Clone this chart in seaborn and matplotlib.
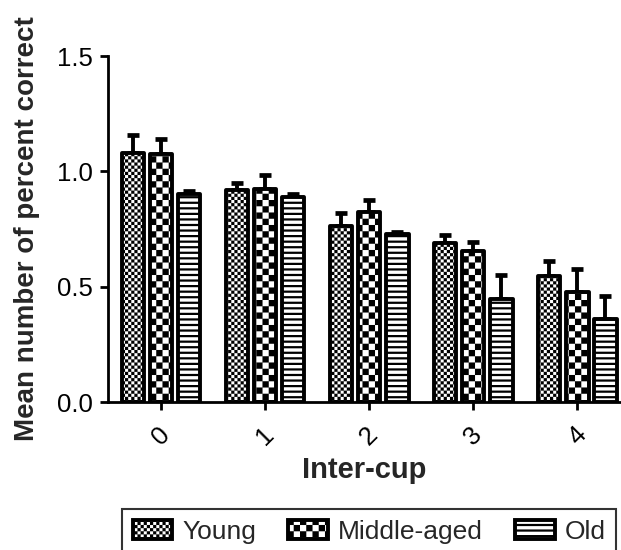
import numpy as np
import pandas as pd
import matplotlib
matplotlib.use("Agg")
import matplotlib.pyplot as plt
import matplotlib.hatch as mhatch
from matplotlib.path import Path
import seaborn as sns
from matplotlib.patches import Patch


class CheckerHatch(mhatch.HatchPatternBase):
    """Filled checkerboard hatch, drawn for the '*' symbol."""
    def __init__(self, hatch, density):
        self.n = hatch.count('*') * 8
        if self.n:
            self.cells = [(i, j) for i in range(self.n) for j in range(self.n)
                          if (i + j) % 2 == 0]
        else:
            self.cells = []
        self.num_vertices = len(self.cells) * 5

    def set_vertices_and_codes(self, vertices, codes):
        s = 1.0 / self.n
        for k, (i, j) in enumerate(self.cells):
            x0, y0 = i * s, j * s
            vertices[k * 5:(k + 1) * 5] = [[x0, y0], [x0 + s, y0],
                                           [x0 + s, y0 + s], [x0, y0 + s],
                                           [x0, y0]]
            codes[k * 5:(k + 1) * 5] = [Path.MOVETO, Path.LINETO, Path.LINETO,
                                        Path.LINETO, Path.CLOSEPOLY]


mhatch._hatch_types[:] = [t for t in mhatch._hatch_types
                          if t.__name__ != "Stars"] + [CheckerHatch]

sns.set_theme(style="ticks")
plt.rcParams['font.family'] = ['Liberation Sans', 'DejaVu Sans']
plt.rcParams['hatch.linewidth'] = 1.0
plt.rcParams['hatch.color'] = 'black'

categories = ["0", "1", "2", "3", "4"]
groups = ["Young", "Middle-aged", "Old"]
young = [1.08, 0.92, 0.765, 0.69, 0.545]
middle = [1.075, 0.925, 0.825, 0.655, 0.475]
old = [0.90, 0.89, 0.73, 0.445, 0.36]
young_err = [0.08, 0.03, 0.055, 0.035, 0.065]
middle_err = [0.065, 0.06, 0.05, 0.037, 0.10]
old_err = [0.015, 0.012, 0.008, 0.105, 0.10]

values = [young, middle, old]
errors = [young_err, middle_err, old_err]
hatches = ["****", "**", "---"]
hatch_lw = [0.05, 0.05, 1.6]

df = pd.DataFrame({
    "cup": np.repeat([categories], 3, axis=0).ravel(),
    "group": np.repeat(groups, len(categories)),
    "value": np.concatenate(values),
})

fig = plt.figure(figsize=(6.21, 5.5), dpi=100)
ax = fig.add_axes([0.174, 0.269, 0.826, 0.629])

sns.barplot(data=df, x="cup", y="value", hue="group", order=categories,
            hue_order=groups, palette=["white"] * 3, edgecolor="black",
            linewidth=2.8, width=0.81, gap=0.2, errorbar=None, ax=ax,
            legend=False, zorder=3)

for cont, h, hl, vals, errs in zip(ax.containers, hatches, hatch_lw, values, errors):
    xs = []
    for p in cont.patches:
        p.set_hatch(h)
        p.set_hatch_linewidth(hl)
        p.set_joinstyle("round")
        xs.append(p.get_x() + p.get_width() / 2)
    ax.errorbar(xs, vals, yerr=[np.zeros(len(errs)), errs], fmt="none",
                ecolor="black", elinewidth=2.8, capsize=4.5, capthick=3.4,
                zorder=2)

ax.set_ylim(0, 1.5)
ax.set_xlim(-0.51, 4.42)
ax.set_yticks([0.0, 0.5, 1.0, 1.5])
ax.set_yticklabels(["0.0", "0.5", "1.0", "1.5"])
ax.tick_params(axis="both", labelsize=18.5, width=2, length=6, color="black",
               labelcolor="black")
ax.tick_params(axis="y", pad=5)
ax.tick_params(axis="x", pad=9)
for lab in ax.get_xticklabels():
    lab.set_rotation(45)
    lab.set_ha("center")
for s in ["left", "bottom"]:
    ax.spines[s].set_linewidth(2)
    ax.spines[s].set_color("black")
sns.despine(ax=ax)

ax.set_xlabel("Inter-cup", fontsize=21, fontweight="bold", labelpad=4)
ax.set_ylabel("Mean number of percent correct", fontsize=20,
              fontweight="bold", labelpad=12)

handles = [Patch(facecolor="white", edgecolor="black", hatch=h, linewidth=2.8,
                 label=g) for g, h in zip(groups, hatches)]
leg = fig.legend(handles=handles, loc="upper left",
                 bbox_to_anchor=(122 / 621, 1 - 509 / 550), ncol=3,
                 fontsize=19, frameon=True, fancybox=False, edgecolor="black",
                 handlelength=1.5, handleheight=0.7, columnspacing=1.22,
                 handletextpad=0.38, borderpad=0.4, borderaxespad=0)
leg.get_frame().set_linewidth(1.5)
for lh, hl in zip(leg.legend_handles, hatch_lw):
    lh.set_hatch_linewidth(hl)

fig.savefig("out.png", dpi=100)
